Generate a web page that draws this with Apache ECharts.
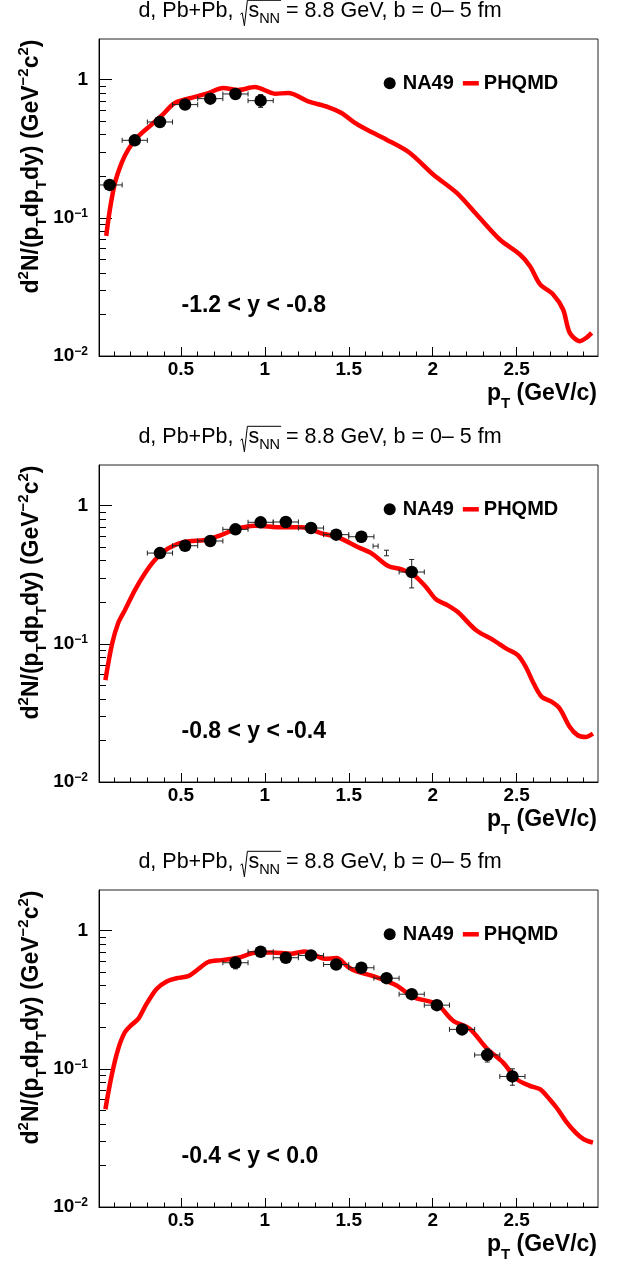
<!DOCTYPE html>
<html><head><meta charset="utf-8">
<script src="https://cdn.jsdelivr.net/npm/echarts@6/dist/echarts.min.js"></script>
<style>html,body{margin:0;padding:0;background:#fff}#c{width:623px;height:1264px}</style>
</head><body><div id="c"></div>
<script>
// ================= DATA =================
// NA49 deuteron pT spectra (points), bin half-width in pT
const na49HalfWidth = 0.075;
const na49Pt1  = [0.075, 0.225, 0.375, 0.525, 0.675, 0.825, 0.975];
const na49Val1 = [0.173, 0.364, 0.494, 0.660, 0.729, 0.788, 0.705];
const na49Err1 = [0.010, 0.018, 0.024, 0.030, 0.034, 0.038, 0.075];

const na49Pt2  = [0.375, 0.525, 0.675, 0.825, 0.975, 1.125, 1.275, 1.425, 1.575, 1.875];
const na49Val2 = [0.454, 0.513, 0.555, 0.674, 0.758, 0.762, 0.689, 0.617, 0.596, 0.331];
const na49Err2 = [0.020, 0.022, 0.024, 0.028, 0.030, 0.030, 0.028, 0.028, 0.050, 0.077];
// stray error bars without markers (panel 2)
const strayPt2   = [1.660, 1.725];
const strayVal2  = [0.510, 0.455];
const strayXErr2 = [0.015, 0.0];
const strayYErr2 = [0.0, 0.021];

const na49Pt3  = [0.825, 0.975, 1.125, 1.275, 1.425, 1.575, 1.725, 1.875, 2.025, 2.175, 2.325, 2.475];
const na49Val3 = [0.586, 0.704, 0.637, 0.662, 0.569, 0.539, 0.453, 0.347, 0.289, 0.193, 0.126, 0.0881];
const na49Err3 = [0.057, 0.030, 0.028, 0.028, 0.025, 0.024, 0.020, 0.016, 0.015, 0.016, 0.014, 0.012];

// PHQMD model curves
const phqmdPt1  = [0.055, 0.077, 0.107, 0.147, 0.186, 0.246, 0.325, 0.385, 0.464, 0.583, 0.663, 0.752, 0.841, 0.941, 1.06, 1.14, 1.258, 1.377, 1.457, 1.537, 1.6, 1.725, 1.864, 2.003, 2.142, 2.261, 2.40, 2.52, 2.58, 2.64, 2.718, 2.777, 2.817, 2.877, 2.917, 2.947];
const phqmdVal1 = [0.074, 0.115, 0.179, 0.250, 0.312, 0.389, 0.473, 0.549, 0.678, 0.750, 0.800, 0.871, 0.842, 0.885, 0.792, 0.800, 0.697, 0.634, 0.574, 0.486, 0.440, 0.368, 0.295, 0.206, 0.152, 0.106, 0.0697, 0.0543, 0.0447, 0.0330, 0.0279, 0.0217, 0.0147, 0.0128, 0.0136, 0.0147];

const phqmdPt2  = [0.05, 0.09, 0.126, 0.166, 0.226, 0.285, 0.345, 0.424, 0.524, 0.643, 0.742, 0.822, 0.941, 1.10, 1.219, 1.338, 1.437, 1.556, 1.636, 1.735, 1.815, 1.894, 1.96, 2.02, 2.09, 2.15, 2.257, 2.364, 2.436, 2.507, 2.555, 2.602, 2.65, 2.71, 2.757, 2.817, 2.864, 2.912, 2.955];
const phqmdVal2 = [0.0546, 0.100, 0.141, 0.175, 0.245, 0.323, 0.404, 0.491, 0.549, 0.564, 0.614, 0.675, 0.717, 0.697, 0.697, 0.631, 0.590, 0.500, 0.452, 0.366, 0.346, 0.310, 0.258, 0.210, 0.190, 0.170, 0.126, 0.106, 0.0926, 0.0828, 0.068, 0.0516, 0.0413, 0.038, 0.034, 0.025, 0.0218, 0.0212, 0.0224];

const phqmdPt3  = [0.05, 0.087, 0.126, 0.166, 0.206, 0.246, 0.295, 0.355, 0.415, 0.474, 0.544, 0.593, 0.663, 0.742, 0.841, 0.941, 1.04, 1.159, 1.239, 1.358, 1.427, 1.497, 1.547, 1.646, 1.785, 1.884, 2.023, 2.122, 2.222, 2.321, 2.42, 2.5, 2.579, 2.639, 2.698, 2.745, 2.793, 2.852, 2.9, 2.955];
const phqmdVal3 = [0.051, 0.089, 0.139, 0.184, 0.208, 0.230, 0.295, 0.379, 0.429, 0.453, 0.469, 0.515, 0.593, 0.612, 0.637, 0.692, 0.696, 0.681, 0.708, 0.626, 0.634, 0.545, 0.507, 0.469, 0.401, 0.330, 0.295, 0.223, 0.194, 0.141, 0.111, 0.0842, 0.0753, 0.0713, 0.060, 0.051, 0.0419, 0.0345, 0.0309, 0.0292];

const rapidityLabels = ['-1.2 < y < -0.8', '-0.8 < y < -0.4', '-0.4 < y < 0.0'];
const seriesNames = ['NA49', 'PHQMD'];
const xMajorTicks = [0.5, 1, 1.5, 2, 2.5];
const xTickLabels = ['0.5', '1', '1.5', '2', '2.5'];
const xMinorTicks = [0.1,0.2,0.3,0.4,0.6,0.7,0.8,0.9,1.1,1.2,1.3,1.4,1.6,1.7,1.8,1.9,2.1,2.2,2.3,2.4,2.6,2.7,2.8,2.9];
const yMajorTicks = [0.01, 0.1, 1];
const yTickLabels = [['10', '−2'], ['10', '−1'], ['1', '']];
const yMinorTicks = [0.02,0.03,0.04,0.05,0.06,0.07,0.08,0.09,0.2,0.3,0.4,0.5,0.6,0.7,0.8,0.9];

// ================= LAYOUT =================
const FONT = '"Liberation Sans", Arial, Helvetica, sans-serif';
const X_MIN = 0.012, X_MAX = 2.985, Y_MIN = 0.01, Y_MAX = 1.97;
const gridLeft = 99, gridWidth = 499, gridHeight = 317;
const gridTops = [39, 465, 890];

const na49 = [
  {pt: na49Pt1, val: na49Val1, err: na49Err1, sPt: [], sVal: [], sXE: [], sYE: []},
  {pt: na49Pt2, val: na49Val2, err: na49Err2, sPt: strayPt2, sVal: strayVal2, sXE: strayXErr2, sYE: strayYErr2},
  {pt: na49Pt3, val: na49Val3, err: na49Err3, sPt: [], sVal: [], sXE: [], sYE: []}
];
const phqmd = [[phqmdPt1, phqmdVal1], [phqmdPt2, phqmdVal2], [phqmdPt3, phqmdVal3]];

const mctx = document.createElement('canvas').getContext('2d');
function tw(t, size, bold) { mctx.font = (bold ? 'bold ' : '') + size + 'px ' + FONT; return mctx.measureText(t).width; }
// pieces: [text, size, baselineShift(+down)]; (ax, ay) = anchor on baseline
function pieceText(pieces, ax, ay, align, bold, rot) {
  const ws = pieces.map(p => tw(p[0], p[1], bold));
  const total = ws.reduce((a, b) => a + b, 0);
  let s = align === 'left' ? 0 : (align === 'center' ? -total / 2 : -total);
  const els = [];
  pieces.forEach((p, i) => {
    const off = s; s += ws[i];
    const mid = p[2] - 0.3465 * p[1];
    const x = rot ? ax + mid : ax + off;
    const y = rot ? ay - off : ay + mid;
    els.push({type: 'text', x, y, rotation: rot ? Math.PI / 2 : 0, silent: true, z: 50,
      style: {text: p[0], fontSize: p[1], fontWeight: bold ? 'bold' : 'normal', fontFamily: FONT,
        fill: '#000', align: 'left', verticalAlign: 'middle'}});
  });
  return els;
}

const graphics = [];
gridTops.forEach((top, i) => {
  const bottom = top + gridHeight;
  // title with sqrt(s_NN)
  const tb = top - 20.7;
  const radW = 9;
  const tp = [['d, Pb+Pb, ', 21.5, 0], ['s', 21.5, 0], ['NN', 14.5, 6], [' = 8.8 GeV, b = 0\u2013 5 fm', 21.5, 0]];
  const wsT = tp.map(p => tw(p[0], p[1], false));
  const totT = wsT[0] + radW + wsT[1] + wsT[2] + wsT[3];
  const x0 = 320 - totT / 2;
  const xs = [x0, x0 + wsT[0] + radW, x0 + wsT[0] + radW + wsT[1], x0 + wsT[0] + radW + wsT[1] + wsT[2]];
  tp.forEach((p, k) => graphics.push(...pieceText([p], xs[k], tb, 'left', false, false)));
  const xr = x0 + wsT[0] + 1;
  const xe = xs[3] + 1;
  graphics.push({type: 'polyline', silent: true, z: 50,
    shape: {points: [[xr, tb - 4], [xr + 1.8, tb - 5.5], [xr + 4, tb + 7.5], [xr + 7, tb - 18], [xe, tb - 18]]},
    style: {stroke: '#000', lineWidth: 1, fill: null}});

  // y-axis title (rotated)
  graphics.push(...pieceText([
    ['d', 23, 0], ['2', 15, -10], ['N/(p', 23, 0], ['T', 15, 8], ['dp', 23, 0], ['T', 15, 8],
    ['dy) (GeV', 23, 0], ['\u22122', 15, -10], ['c', 23, 0], ['2', 15, -10], [')', 23, 0]
  ], 39.5, top + 0.5, 'right', true, true));

  // x-axis title
  graphics.push(...pieceText([['p', 23, 0], ['T', 15, 8], [' (GeV/c)', 23, 0]], 597, bottom + 45.5, 'right', true, false));

  // rapidity label
  graphics.push(...pieceText([[rapidityLabels[i], 23, 0]], 181.5, bottom - 42, 'left', true, false));
});

const grids = gridTops.map(t => ({left: gridLeft, top: t, width: gridWidth, height: gridHeight,
  show: true, borderColor: '#222', borderWidth: 1, backgroundColor: 'transparent'}));

const xAxes = [], yAxes = [];
gridTops.forEach((t, i) => {
  xAxes.push({type: 'value', gridIndex: i, position: 'bottom', min: X_MIN, max: X_MAX,
    axisLine: {show: true, onZero: false, lineStyle: {color: '#000', width: 1}},
    axisTick: {show: true, inside: true, length: 9, customValues: xMajorTicks, lineStyle: {color: '#000'}},
    axisLabel: {show: true, customValues: xMajorTicks, margin: 4, color: '#000', fontSize: 19, fontWeight: 'bold', fontFamily: FONT,
      formatter: v => { const k = xMajorTicks.findIndex(m => Math.abs(m - v) < 1e-6); return k >= 0 ? xTickLabels[k] : ''; }},
    splitLine: {show: false}});
  yAxes.push({type: 'log', logBase: 10, gridIndex: i, position: 'left', min: Y_MIN, max: Y_MAX,
    axisLine: {show: true, onZero: false, lineStyle: {color: '#000', width: 1}},
    axisTick: {show: true, inside: true, length: 13, customValues: yMajorTicks, lineStyle: {color: '#000'}},
    axisLabel: {show: true, customValues: yMajorTicks, margin: 11, color: '#000',
      formatter: v => { const k = yMajorTicks.findIndex(m => Math.abs(Math.log10(m) - Math.log10(v)) < 1e-6); if (k < 0) return ''; const L = yTickLabels[k]; return L[1] ? '{m|' + L[0] + '}{s|' + L[1] + '}' : '{m|' + L[0] + '}'; },
      rich: {m: {fontSize: 19, fontWeight: 'bold', fontFamily: FONT, lineHeight: 20, color: '#000'},
             s: {fontSize: 12, fontWeight: 'bold', fontFamily: FONT, lineHeight: 12, verticalAlign: 'top', color: '#000'}}},
    splitLine: {show: false}});
});
// minor-tick axes
gridTops.forEach((t, i) => {
  xAxes.push({type: 'value', gridIndex: i, position: 'bottom', min: X_MIN, max: X_MAX,
    axisLine: {show: false}, axisLabel: {show: false}, splitLine: {show: false},
    axisTick: {show: true, inside: true, length: 4.5, customValues: xMinorTicks, lineStyle: {color: '#000'}}});
  yAxes.push({type: 'log', logBase: 10, gridIndex: i, position: 'left', min: Y_MIN, max: Y_MAX,
    axisLine: {show: false}, axisLabel: {show: false}, splitLine: {show: false},
    axisTick: {show: true, inside: true, length: 7, customValues: yMinorTicks, lineStyle: {color: '#000'}}});
});

function errRender(params, api) {
  const x = api.value(0), y = api.value(1), xe = api.value(2), ye = api.value(3);
  const c = api.coord([x, y]);
  const st = {stroke: '#222', lineWidth: 1};
  const ch = [];
  if (xe > 0) {
    const l = api.coord([x - xe, y])[0], r = api.coord([x + xe, y])[0];
    ch.push({type: 'line', shape: {x1: l, y1: c[1], x2: r, y2: c[1]}, style: st});
    ch.push({type: 'line', shape: {x1: l, y1: c[1] - 2.5, x2: l, y2: c[1] + 2.5}, style: st});
    ch.push({type: 'line', shape: {x1: r, y1: c[1] - 2.5, x2: r, y2: c[1] + 2.5}, style: st});
  }
  if (ye > 0) {
    const tpx = api.coord([x, y + ye])[1], bpx = api.coord([x, y - ye])[1];
    ch.push({type: 'line', shape: {x1: c[0], y1: tpx, x2: c[0], y2: bpx}, style: st});
    ch.push({type: 'line', shape: {x1: c[0] - 2.5, y1: tpx, x2: c[0] + 2.5, y2: tpx}, style: st});
    ch.push({type: 'line', shape: {x1: c[0] - 2.5, y1: bpx, x2: c[0] + 2.5, y2: bpx}, style: st});
  }
  return {type: 'group', children: ch};
}

const series = [];
gridTops.forEach((t, i) => {
  const [pp, pv] = phqmd[i];
  series.push({name: 'PHQMD', type: 'line', xAxisIndex: i, yAxisIndex: i, z: 2,
    data: pp.map((p, k) => [p, pv[k]]), showSymbol: false, symbol: 'none', smooth: 0.3, clip: true,
    lineStyle: {color: '#ff0000', width: 4.5}, itemStyle: {color: '#ff0000'}});
  const d = na49[i];
  const errData = d.pt.map((p, k) => [p, d.val[k], na49HalfWidth, d.err[k]])
    .concat(d.sPt.map((p, k) => [p, d.sVal[k], d.sXE[k], d.sYE[k]]));
  series.push({name: 'NA49 errors', type: 'custom', xAxisIndex: i, yAxisIndex: i, z: 3, clip: true,
    renderItem: errRender, encode: {x: 0, y: 1}, data: errData});
  series.push({name: 'NA49', type: 'scatter', xAxisIndex: i, yAxisIndex: i, z: 4,
    data: d.pt.map((p, k) => [p, d.val[k]]), symbol: 'circle', symbolSize: 12.5,
    itemStyle: {color: '#000', opacity: 1}});
});

const legends = gridTops.map(t => ({
  left: 383.7, top: t + 44.3 - 10, padding: 0, itemGap: 9, itemWidth: 16, itemHeight: 12,
  orient: 'horizontal', selectedMode: false, symbolKeepAspect: true,
  textStyle: {fontSize: 20, fontWeight: 'bold', fontFamily: FONT, color: '#000', lineHeight: 20},
  itemStyle: {opacity: 1},
  data: [{name: seriesNames[0], icon: 'circle'}, {name: seriesNames[1], icon: 'path://M0,0H16V4.5H0Z'}]
}));

const chart = echarts.init(document.getElementById('c'), null, {renderer: 'canvas'});
chart.setOption({
  animation: false, backgroundColor: '#fff',
  grid: grids, xAxis: xAxes, yAxis: yAxes, legend: legends, series, graphic: graphics
});
</script></body></html>
